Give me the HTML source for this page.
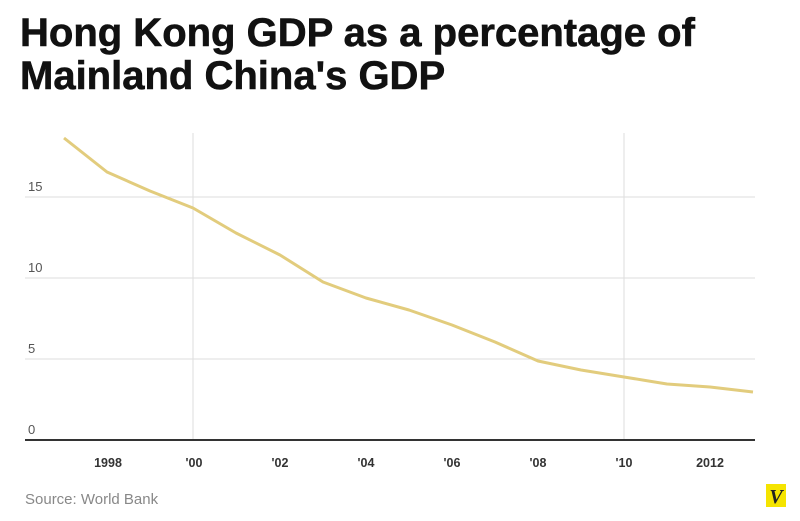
<!DOCTYPE html>
<html><head><meta charset="utf-8"><style>
body{margin:0;background:#fff;width:800px;height:521px;overflow:hidden;font-family:"Liberation Sans",sans-serif}
.t{position:absolute;left:20px;font-weight:bold;font-size:40px;letter-spacing:0px;color:#111;line-height:43px;top:12px;white-space:nowrap;-webkit-text-stroke:0.6px #111}
</style></head><body>
<div class="t">Hong Kong GDP as a percentage of<br>Mainland China's GDP</div>
<svg width="800" height="521" style="position:absolute;left:0;top:0">
<g stroke="#ddd" stroke-width="1">
<line x1="25" y1="197" x2="755" y2="197"/><line x1="25" y1="278" x2="755" y2="278"/><line x1="25" y1="359" x2="755" y2="359"/>
<line x1="193" y1="133" x2="193" y2="440"/><line x1="624" y1="133" x2="624" y2="440"/>
</g>
<line x1="25" y1="440" x2="755" y2="440" stroke="#333" stroke-width="2"/>
<g font-size="13" fill="#555"><text x="28" y="191">15</text><text x="28" y="272">10</text><text x="28" y="353">5</text><text x="28" y="434">0</text></g>
<g font-size="12.5" font-weight="bold" fill="#333" text-anchor="middle">
<text x="108" y="467">1998</text><text x="194" y="467">'00</text><text x="280" y="467">'02</text><text x="366" y="467">'04</text><text x="452" y="467">'06</text><text x="538" y="467">'08</text><text x="624" y="467">'10</text><text x="710" y="467">2012</text></g>
<polyline fill="none" stroke="#e2cc7d" stroke-width="3" stroke-linejoin="round" points="64,138 107,172 150,191 193,208 236,233 280,255 323,282 366,298 409,310 452,325 495,342 538,361 581,370 624,377 667,384 710,387 753,392"/>
<text x="25" y="504" font-size="15" fill="#888">Source: World Bank</text>
<rect x="766" y="484" width="20" height="23" fill="#f5e400"/>
<text x="776" y="503" font-size="20" font-weight="bold" font-style="italic" font-family="Liberation Serif,serif" text-anchor="middle" fill="#222">V</text>
</svg>
</body></html>
